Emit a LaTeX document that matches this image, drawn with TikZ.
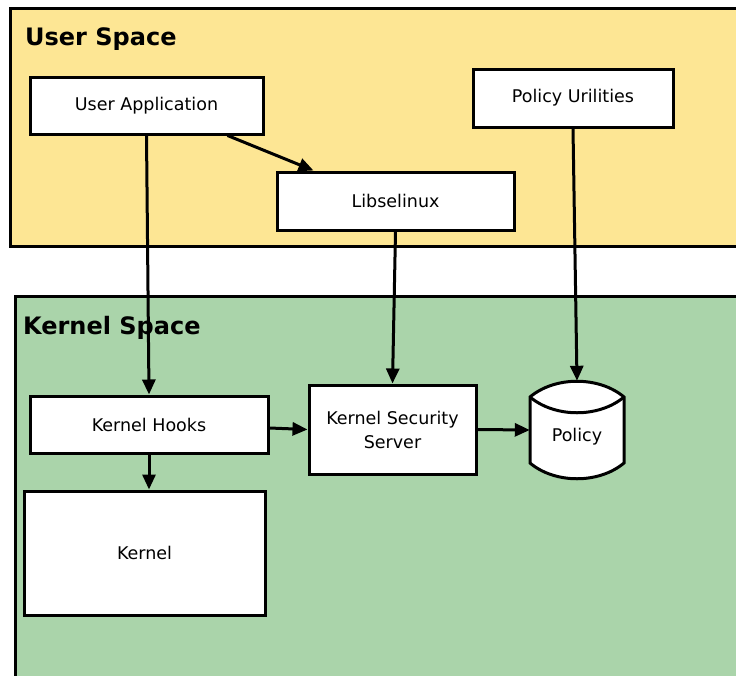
\documentclass[tikz,border=0pt]{standalone}
\usepackage{fontspec}
\setmainfont{DejaVu Sans}
\usetikzlibrary{arrows.meta,calc}
\definecolor{userfill}{RGB}{253,230,148}
\definecolor{kernfill}{RGB}{170,212,170}
\tikzset{
  region/.style={draw=black,line width=3pt},
  title/.style={anchor=base west,inner sep=0pt,font=\fontsize{24}{28}\selectfont\bfseries},
  block/.style={draw=black,fill=white,line width=3pt,inner sep=0pt,
    font=\fontsize{17.5}{24}\selectfont,align=center},
  arr/.style={line width=3pt,-{Triangle[length=15pt,width=13pt]}},
}
\begin{document}
\begin{tikzpicture}[x=1pt,y=-1pt]
\clip (0,0) rectangle (736,675);
\fill[white] (0,0) rectangle (736,675);

% the two address-space regions
\draw[region,fill=userfill] (10,8) rectangle (750,246);
\draw[region,fill=kernfill] (15,296) rectangle (750,690);
\node[title] (ustitle) at (25,45) {User Space};
\node[title] (kstitle) at (23,334) {Kernel Space};

% components
\node[block,minimum width=233pt,minimum height=57pt] (ua) at (146.5,105.5) {User Application};
\node[block,minimum width=200pt,minimum height=58pt] (pu) at (573,98) {Policy Urilities};
\node[block,minimum width=237pt,minimum height=58pt] (lib) at (395.5,201) {Libselinux};
\node[block,minimum width=238pt,minimum height=57pt] (kh) at (149,424.5) {Kernel Hooks};
\node[block,minimum width=167pt,minimum height=89pt] (kss) at (392.5,429.5) {Kernel Security\\Server};
\node[block,minimum width=241pt,minimum height=124pt] (kernel) at (144.5,553) {Kernel};

% policy store drawn as a drum
\draw[line width=3pt,fill=white]
  (530,397) .. controls (555,376) and (599,376) .. (624,397)
  -- (624,463) .. controls (599,484) and (555,484) .. (530,463) -- cycle;
\draw[line width=3pt] (530,397) .. controls (555,418) and (599,418) .. (624,397);
\node[inner sep=0pt,minimum width=94pt,minimum height=98pt] (policy) at (577,430) {};
\node[inner sep=0pt,font=\fontsize{17.5}{24}\selectfont] (policylabel) at (577,437) {Policy};

% connectors
\draw[arr] (ua.south) -- (kh.north);
\draw[arr] ([xshift=-37pt]ua.south east) -- ([xshift=38pt]lib.north west);
\draw[arr] (lib.south) -- (kss.north);
\draw[arr] (pu.south) -- (policy.north);
\draw[arr] ([yshift=-3.5pt]kh.east) -- (kss.west);
\draw[arr] (kss.east) -- (policy.west);
\draw[arr] (kh.south) -- (kh.south |- kernel.north);
\end{tikzpicture}
\end{document}
